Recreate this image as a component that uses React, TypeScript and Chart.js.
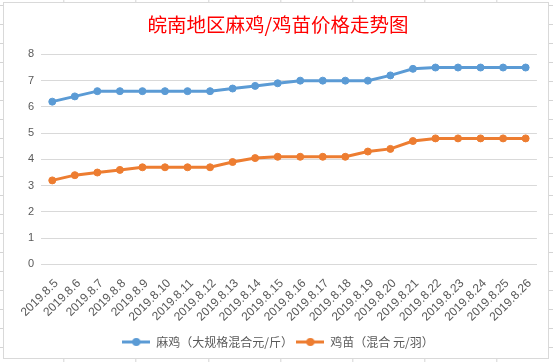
import React, { useEffect, useRef } from "react";
import { Chart, registerables } from "chart.js";
Chart.register(...registerables);

const title = "皖南地区麻鸡/鸡苗价格走势图";
const categories = [
  "2019.8.5", "2019.8.6", "2019.8.7", "2019.8.8", "2019.8.9", "2019.8.10",
  "2019.8.11", "2019.8.12", "2019.8.13", "2019.8.14", "2019.8.15", "2019.8.16",
  "2019.8.17", "2019.8.18", "2019.8.19", "2019.8.20", "2019.8.21", "2019.8.22",
  "2019.8.23", "2019.8.24", "2019.8.25", "2019.8.26",
];
const seriesNames = ["麻鸡（大规格混合元/斤）", "鸡苗（混合 元/羽）"];
const majiValues = [6.2, 6.4, 6.6, 6.6, 6.6, 6.6, 6.6, 6.6, 6.7, 6.8, 6.9, 7.0, 7.0, 7.0, 7.0, 7.2, 7.45, 7.5, 7.5, 7.5, 7.5, 7.5];
const jimiaoValues = [3.2, 3.4, 3.5, 3.6, 3.7, 3.7, 3.7, 3.7, 3.9, 4.05, 4.1, 4.1, 4.1, 4.1, 4.3, 4.4, 4.7, 4.8, 4.8, 4.8, 4.8, 4.8];
const yMin = 0;
const yMax = 8;
const yStep = 1;

const BLUE = "#5B9BD5";
const ORANGE = "#ED7D31";
const TEXT = "#595959";
const GRID = "#d9d9d9";

function legendMarker(color: string): HTMLCanvasElement {
  const c = document.createElement("canvas");
  c.width = 28;
  c.height = 10;
  const ctx = c.getContext("2d")!;
  ctx.strokeStyle = color;
  ctx.lineWidth = 3;
  ctx.beginPath();
  ctx.moveTo(0, 5);
  ctx.lineTo(28, 5);
  ctx.stroke();
  ctx.fillStyle = color;
  ctx.beginPath();
  ctx.arc(14, 5, 4, 0, Math.PI * 2);
  ctx.fill();
  return c;
}

export default function App() {
  const ref = useRef<HTMLCanvasElement | null>(null);

  useEffect(() => {
    const canvas = ref.current;
    if (!canvas) return;
    const markers = [legendMarker(BLUE), legendMarker(ORANGE)];
    const chart = new Chart(canvas, {
      type: "line",
      data: {
        labels: categories,
        datasets: [
          {
            label: seriesNames[0],
            data: majiValues,
            borderColor: BLUE,
            backgroundColor: BLUE,
            borderWidth: 3,
            pointRadius: 3.5,
            pointBorderWidth: 1,
            pointBackgroundColor: BLUE,
            pointBorderColor: BLUE,
            tension: 0,
          },
          {
            label: seriesNames[1],
            data: jimiaoValues,
            borderColor: ORANGE,
            backgroundColor: ORANGE,
            borderWidth: 3,
            pointRadius: 3.5,
            pointBorderWidth: 1,
            pointBackgroundColor: ORANGE,
            pointBorderColor: ORANGE,
            tension: 0,
          },
        ],
      },
      options: {
        responsive: false,
        animation: false,
        layout: { padding: { left: 12, right: 8, top: 0, bottom: 0 } },
        plugins: {
          title: {
            display: true,
            text: title,
            color: "#FF0000",
            font: { family: "'Noto Sans CJK SC', sans-serif", size: 19.5, weight: "normal", lineHeight: 1.2 },
            padding: { top: 9.6, bottom: 18.4 },
          },
          legend: {
            position: "bottom",
            labels: {
              usePointStyle: true,
              pointStyleWidth: 28,
              padding: 3.4,
              color: TEXT,
              font: { family: "'Noto Sans CJK SC', sans-serif", size: 12 },
              generateLabels: (ch: any) => {
                const items = (Chart.defaults.plugins.legend.labels as any).generateLabels(ch);
                items.forEach((it: any, i: number) => {
                  it.pointStyle = markers[i];
                });
                return items;
              },
            },
          },
          tooltip: { enabled: false },
        },
        scales: {
          x: {
            offset: true,
            grid: { display: false, drawTicks: false },
            border: { display: true, color: GRID, width: 1 },
            ticks: {
              autoSkip: false,
              minRotation: 45,
              maxRotation: 45,
              color: TEXT,
              padding: 12,
              labelOffset: 4,
              font: { family: "'Liberation Sans', sans-serif", size: 12 },
            },
            afterFit: (s: any) => {
              s.height = 68.2;
            },
          },
          y: {
            min: yMin,
            max: yMax,
            grid: { color: GRID, drawTicks: false, lineWidth: 1 },
            border: { display: false },
            ticks: {
              stepSize: yStep,
              color: TEXT,
              padding: 7,
              font: { family: "'Liberation Sans', sans-serif", size: 11 },
            },
            afterFit: (s: any) => {
              s.width = 25;
            },
          },
        },
      },
    });
    return () => chart.destroy();
  }, []);

  return (
    <div
      style={{
        position: "fixed",
        left: 0,
        top: 0,
        width: 553,
        height: 362,
        background: "#fff",
        backgroundImage:
          "repeating-linear-gradient(to bottom, transparent 0px, transparent 18px, #d4d4d4 18px, #d4d4d4 19px), repeating-linear-gradient(to right, transparent 0px, transparent 71.2px, #d4d4d4 71.2px, #d4d4d4 72.2px)",
        backgroundPosition: "0px -13px, -7.7px 0px",
        overflow: "hidden",
      }}
    >
      <div
        style={{
          position: "absolute",
          left: 3,
          top: 2,
          width: 546,
          height: 357,
          boxSizing: "border-box",
          border: "1px solid #d9d9d9",
          background: "#fff",
        }}
      >
        <canvas ref={ref} width={544} height={355} style={{ display: "block", width: 544, height: 355 }} />
      </div>
    </div>
  );
}
